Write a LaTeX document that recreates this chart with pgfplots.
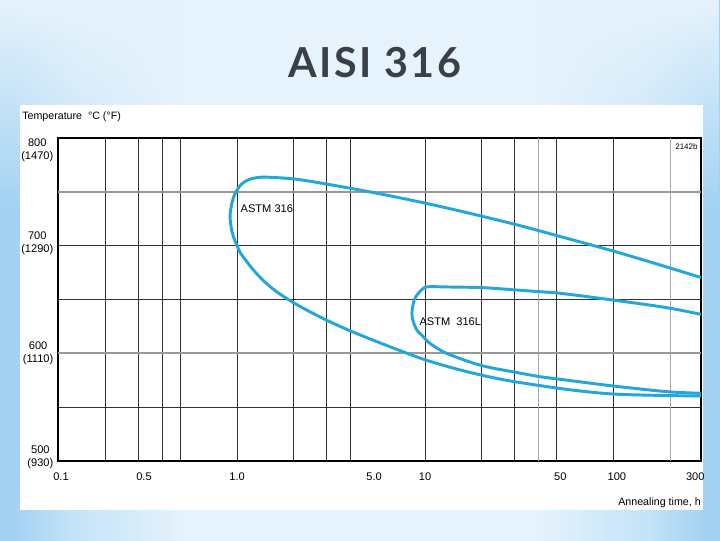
\documentclass[border=0pt]{standalone}
\usepackage{pgfplots}
\pgfplotsset{compat=1.18}
\usetikzlibrary{fadings}
\usepackage{fontspec}
\setmainfont{Liberation Sans}
\newfontfamily\titlefont[LetterSpace=6]{Lato}
\definecolor{curve}{HTML}{23A7D9}
\definecolor{bgA}{HTML}{E6F3FC}
\definecolor{bgC}{HTML}{C4E3F8}
\definecolor{bgB}{HTML}{A3D2F3}
\definecolor{titlegray}{HTML}{3B4047}
\pgfdeclarehorizontalshading{bgshade}{100bp}{color(0bp)=(bgB); color(26bp)=(bgB); color(30bp)=(bgC); color(38bp)=(bgA); color(62bp)=(bgA); color(70bp)=(bgC); color(74bp)=(bgB); color(100bp)=(bgB)}
\tikzfading[name=fadedown, top color=transparent!0, bottom color=transparent!100]
\begin{document}
\begin{tikzpicture}
\begin{scope}[x=0.75pt,y=0.75pt]
\useasboundingbox (0,0) rectangle (720,540);
\shade[shading=bgshade] (0,0) rectangle (720,540);
\fill[bgA, path fading=fadedown] (0,330) rectangle (720,540);
\fill[white] (20,30) rectangle (703,435);
\node[font=\titlefont\bfseries\fontsize{31}{31}\selectfont, text=titlegray] at (375,477) {AISI 316};
\node[anchor=west, font=\fontsize{8}{9}\selectfont, inner sep=0pt] at (22,423) {Temperature\ \ °C (°F)};
\node[anchor=east, font=\fontsize{8}{9}\selectfont, inner sep=0pt] at (701,37) {Annealing time, h};
\end{scope}
\begin{axis}[
 at={(43.5pt,59.25pt)}, anchor=south west, scale only axis,
 width=482.25pt, height=242.25pt,
 xmode=log, xmin=0.1117, xmax=292.8, ymin=500, ymax=800,
 axis line style={line width=1pt, black},
 xtick={0.1159,0.320,1,5.35,10,52.3,104.6,273},
 xticklabels={0.1,0.5,1.0,5.0,10,50,100,300},
 ytick={503.7,600.3,702.5,788.9},
 yticklabels={{500\\(930)},{600\\(1110)},{700\\(1290)},{800\\(1470)}},
 yticklabel style={align=center, font=\fontsize{8.3}{9.8}\selectfont},
 xticklabel style={font=\fontsize{8.3}{9}\selectfont, yshift=-5pt},
 major tick length=0pt, minor tick length=0pt,
 minor xtick={0.2,0.3,0.4,0.5,1,2,3,4,10,20,30,50,100},
 minor ytick={550,650,700},
 xminorgrids, yminorgrids,
 minor grid style={black!80, line width=0.6pt},
 extra x ticks={40,200}, extra x tick labels={},
 extra x tick style={xmajorgrids=true, major grid style={black!35, line width=0.5pt}},
 extra y ticks={600,750}, extra y tick labels={},
 extra y tick style={ymajorgrids=true, major grid style={black!40, line width=1.3pt}},
]
\addplot[curve, line width=2.2pt, smooth, tension=0.5] coordinates {
(292.8,670.4) (178,682) (100,695) (56.2,707) (31.6,718.8) (17.8,729.5)
(10,739.5) (5.62,748.5) (3.16,756.5) (2.09,761.6) (1.585,763.3) (1.318,763.5)
(1.148,761.2) (1.047,756.5) (0.977,748.5) (0.94,740) (0.918,727) (0.94,713)
(0.977,704) (1.047,692.5) (1.096,688) (1.22,677.5) (1.41,666) (1.66,656)
(2.09,645) (2.82,633) (3.98,621) (6.31,607) (10,594) (15.8,584) (25.1,576)
(39.8,570.3) (63.1,565.5) (100,562.2) (178,560.9) (292.8,560.4)
};
\addplot[curve, line width=2.2pt, smooth, tension=0.5] coordinates {
(292.8,636.2) (193,642.4) (99.6,649.5) (52.2,655.8) (40.9,657.2) (30.7,658.8)
(20.3,661.0) (13.5,661.6) (10.6,661.9) (9.85,660.7) (9.22,656.0) (8.74,649.5)
(8.5,637.2) (8.66,629.1) (9.03,621.7) (9.79,615.4) (10.6,609.3) (13.0,600.0)
(19.8,588.8) (31.1,582.0) (40.9,578.3) (52.2,575.9) (99.6,569.7) (193,564.4)
(292.8,562.9)
};
\node[font=\fontsize{8.3}{9}\selectfont] at (axis cs:1.44,734) {ASTM 316};
\node[font=\fontsize{8.3}{9}\selectfont] at (axis cs:13.6,629.1) {ASTM\ \ 316L};
\node[font=\fontsize{6}{7}\selectfont] at (axis cs:245,791.6) {2142b};
\end{axis}
\end{tikzpicture}
\end{document}
